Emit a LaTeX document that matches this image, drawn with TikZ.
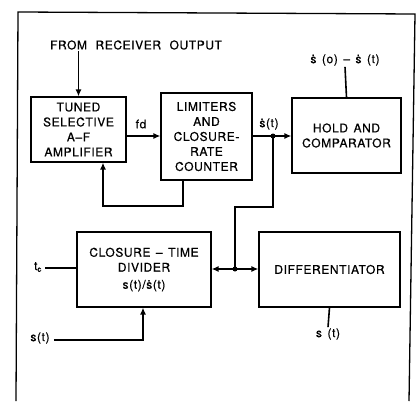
\documentclass[tikz,border=0pt]{standalone}
\usepackage{fontspec}
\setmainfont{TeX Gyre Heros}[LetterSpace=5,WordSpace=1.4,FakeBold=0.6]
\usetikzlibrary{arrows.meta}
\begin{document}
\begin{tikzpicture}[x=1pt,y=-1pt,
  box/.style={draw,line width=1.1pt,rectangle,align=center,inner sep=0pt,font=\fontsize{12}{15}\selectfont},
  lbl/.style={inner sep=1pt,font=\fontsize{12}{15}\selectfont},
  wire/.style={line width=1.6pt},
  arr/.style={wire,-{Latex[length=7pt,width=6pt]}},
  dot/.style={circle,fill,inner sep=0pt,minimum size=5pt}]
\useasboundingbox (0,0) rectangle (419,401);
\fill[white] (0,0) rectangle (419,401);
% frame
\draw[line width=1.3pt] (16,401) -- (18,12) -- (415,14) -- (409,401);
% boxes
\node[box,minimum width=95pt,minimum height=65pt] (tuned) at (78.5,129.5) {TUNED\\SELECTIVE\\A--F\\AMPLIFIER};
\node[box,minimum width=91pt,minimum height=87pt] (lim) at (206.5,136.5) {LIMITERS\\AND\\CLOSURE-\\RATE\\COUNTER};
\node[box,minimum width=109pt,minimum height=75pt] (hold) at (346.5,135.5) {HOLD AND\\COMPARATOR};
\node[box,minimum width=134pt,minimum height=75pt] (ctd) at (144,269.5) {CLOSURE -- TIME\\DIVIDER\\[2pt]s(t)/\.s(t)};
\node[box,minimum width=141pt,minimum height=75pt] (diff) at (329.5,269.5) {DIFFERENTIATOR};
% labels
\node[lbl] (src) at (136,45) {FROM\hspace{3pt} RECEIVER\hspace{3pt} OUTPUT};
\node[lbl] (fd) at (141,124) {fd};
\node[lbl] (sd) at (269,124) {\.s(t)};
\node[lbl] (out) at (345,60) {\.s (o) -- \.s (t)};
\node[lbl] (tc) at (38,267) {t\textsubscript{c}};
\node[lbl] (sin) at (40,338) {s(t)};
\node[lbl] (sout) at (328,334) {s (t)};
% coordinates
\coordinate (j1) at (273,136);
\coordinate (k) at (235,207);
\coordinate (j2) at (235,269);
\coordinate (fbs) at (183,180);
\coordinate (fb) at (103,206);
\coordinate (si) at (143,340);
% connectors
\draw[arr] (src.south -| tuned.north) -- (tuned.north);
\draw[arr] (tuned.east |- j1) -- (lim.west |- j1);
\draw[wire] (lim.east |- j1) -- (j1);
\draw[arr] (j1) -- (hold.west |- j1);
\draw[wire] (hold.north) -- (out.south);
\draw[wire] (j1) |- (k) -- (j2);
\draw[arr] (j2) -- (ctd.east |- j2);
\draw[arr] (j2) -- (diff.west |- j2);
\draw[arr] (fbs) |- (fb) -- (tuned.south -| fb);
\draw[wire] ([xshift=2pt]tc.east |- 0,268) -- (ctd.west |- 0,268);
\draw[arr] ([xshift=3pt]sin.east |- si) -- (si) -- (ctd.south -| si);
\draw[wire] (diff.south) -- (sout.north);
\node[dot] at (j1) {};
\node[dot] at (j2) {};
\end{tikzpicture}
\end{document}
